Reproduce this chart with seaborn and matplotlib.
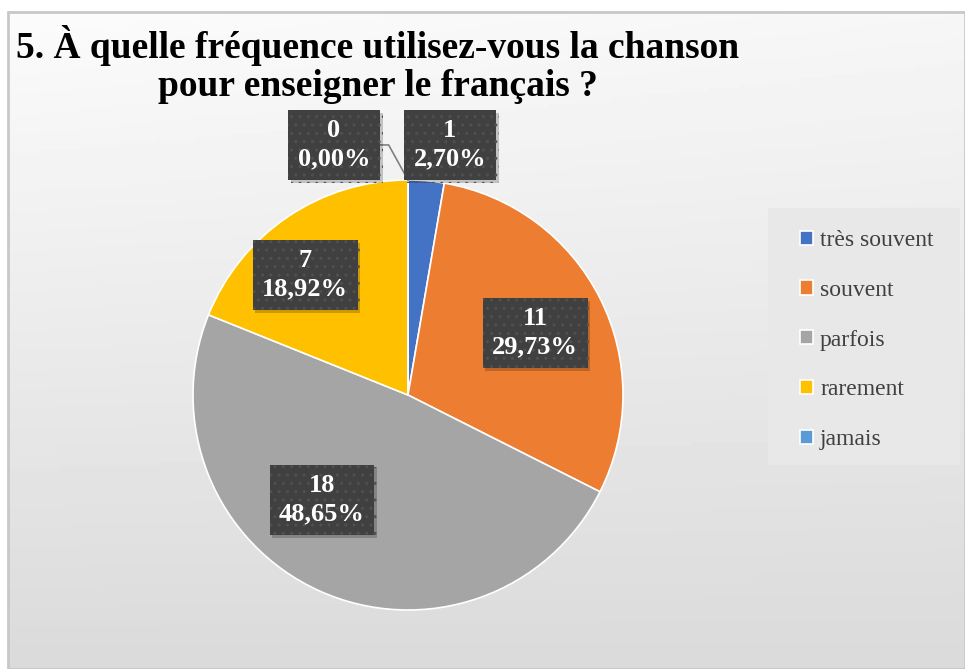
import numpy as np
import seaborn as sns
import matplotlib.pyplot as plt
import matplotlib.patheffects as pe
from matplotlib.patches import Rectangle

# données du graphique
categories = ["très souvent", "souvent", "parfois", "rarement", "jamais"]
counts = [1, 11, 18, 7, 0]
percents = ["2,70%", "29,73%", "48,65%", "18,92%", "0,00%"]
colors = ["#4472C4", "#ED7D31", "#A5A5A5", "#FFC000", "#5B9BD5"]

# position des étiquettes (coord. du camembert, rayon = 1)
label_pos = [(0.195, 1.163), (0.591, 0.288), (-0.40, -0.488), (-0.479, 0.558), (-0.344, 1.163)]

sns.set_theme(style="white")
plt.rcParams["font.family"] = ["Liberation Serif", "DejaVu Serif"]

fig = plt.figure(figsize=(9.65, 6.69), dpi=100)
fig.patch.set_facecolor("white")

# fond dégradé du cadre
bg = fig.add_axes([8 / 965, 0, 1 - 8 / 965, 657 / 669])
yy, xx = np.mgrid[0:1:200j, 0:1:200j]
shade = 0.985 - 0.13 * yy - 0.02 * xx + 0.02 * yy * xx
bg.imshow(shade, cmap="gray", vmin=0, vmax=1, aspect="auto", extent=[0, 1, 0, 1], origin="upper")
bg.set_xlim(0, 1)
bg.set_ylim(0, 1)
bg.axis("off")
bg.add_patch(Rectangle((0, 0), 1, 1, transform=bg.transAxes, fill=False,
                       edgecolor="#c8c8c8", linewidth=2, clip_on=False))

# fond de la légende
fig.patches.append(Rectangle((768 / 965, 1 - 465 / 669), 192 / 965, 257 / 669,
                             transform=fig.transFigure, facecolor="#e8e8e8",
                             edgecolor="none", zorder=0.5))

# camembert
ax = fig.add_axes([(408 - 322.5) / 965, (274 - 322.5) / 669, 645 / 965, 645 / 669])
ax.set_facecolor("none")
wedges, _ = ax.pie(counts, colors=colors, startangle=90, counterclock=False,
                   wedgeprops=dict(edgecolor="white", linewidth=1.2))
ax.set_xlim(-1.5, 1.5)
ax.set_ylim(-1.5, 1.5)
ax.set_aspect("equal")
ax.axis("off")

for (x, y), n, p in zip(label_pos, counts, percents):
    t = ax.text(x, y, f"{n}\n{p}", ha="center", va="center", fontsize=19, fontweight="bold",
                color="white", linespacing=1.3,
                bbox=dict(boxstyle="square,pad=0.36", facecolor="#404040", edgecolor="#505050",
                          hatch="..", linewidth=0))
    t.get_bbox_patch().set_path_effects([
        pe.SimplePatchShadow(offset=(2, -2), shadow_rgbFace="black", alpha=0.2), pe.Normal()])

# ligne de rappel pour "jamais"
ax.plot([-0.13, -0.09, 0.0], [1.163, 1.163, 1.0], color="#808080", linewidth=1.2)

# titre
fig.text(378 / 965, 1 - 45 / 669, "5. À quelle fréquence utilisez-vous la chanson",
         ha="center", va="center", fontsize=27, fontweight="bold", color="black")
fig.text(378 / 965, 1 - 86 / 669, "pour enseigner le français ?",
         ha="center", va="center", fontsize=27, fontweight="bold", color="black")

# légende
leg = fig.legend(wedges, categories, loc="upper left", bbox_to_anchor=(800 / 965, 1 - 230 / 669),
                 fontsize=17, frameon=False, labelspacing=1.22, handlelength=0.55,
                 handleheight=0.55, handletextpad=0.3, borderpad=0, borderaxespad=0)
for t in leg.get_texts():
    t.set_color("#404040")

fig.savefig("out.png", dpi=100)
